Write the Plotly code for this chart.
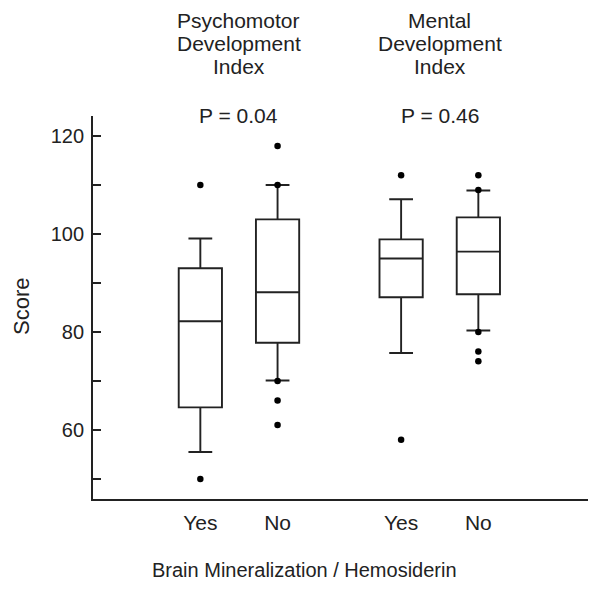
import plotly.graph_objects as go

# ---- data ----
groups = ["PDI Yes", "PDI No", "MDI Yes", "MDI No"]
tick_labels = ["Yes", "No", "Yes", "No"]
q1 = [64.6, 77.8, 87.1, 87.7]
median = [82.2, 88.1, 95.0, 96.4]
q3 = [93.0, 103.0, 98.9, 103.4]
lower_whisker = [55.5, 70.1, 75.7, 80.3]
upper_whisker = [99.1, 110.0, 107.1, 108.9]
outliers = [
    [110, 50],
    [118, 110, 70, 66, 61],
    [112, 58],
    [112, 109, 80, 76, 74],
]
panel_titles = [["Psychomotor", "Development", "Index"], ["Mental", "Development", "Index"]]
p_values = ["P = 0.04", "P = 0.46"]

# ---- layout constants ----
xpos = [1.0, 2.0, 3.6, 4.6]
FONT = "Liberation Sans, Arial, sans-serif"
INK = "#222222"
LW = 1.9
OFF = 8  # page body margin offset
W, H = 602, 591
# desired on-screen plot box
SX0, SX1, SY0, SY1 = 93, 588, 116, 499
L, T = SX0 - OFF, SY0 - OFF
R, B = W - (SX1 - OFF), H - (SY1 - OFF)
PW, PH = SX1 - SX0, SY1 - SY0
TITLE_LINE_Y = [20, 43.5, 67]


def px(sx):
    return (sx - SX0) / PW


def py(sy):
    return (SY1 - sy) / PH


fig = go.Figure()
for i, g in enumerate(groups):
    fig.add_trace(go.Box(
        x=[xpos[i]], q1=[q1[i]], median=[median[i]], q3=[q3[i]],
        lowerfence=[lower_whisker[i]], upperfence=[upper_whisker[i]],
        width=0.56, whiskerwidth=0.55,
        fillcolor="white", line=dict(color=INK, width=LW),
        boxpoints=False, showlegend=False, name=g, hoverinfo="skip",
    ))
    fig.add_trace(go.Scatter(
        x=[xpos[i]] * len(outliers[i]), y=outliers[i], mode="markers",
        marker=dict(color="black", size=6.5), showlegend=False, hoverinfo="skip",
    ))

annotations = []
for k, (lines, p) in enumerate(zip(panel_titles, p_values)):
    cx = (xpos[2 * k] + xpos[2 * k + 1]) / 2
    for line, ly in zip(lines, TITLE_LINE_Y):
        annotations.append(dict(x=cx, xref="x", y=py(ly), yref="paper", text=line,
                                showarrow=False, yanchor="middle", xanchor="center",
                                font=dict(size=21, family=FONT, color=INK)))
    annotations.append(dict(x=cx, xref="x", y=py(115), yref="paper", text=p,
                            showarrow=False, yanchor="middle", xanchor="center",
                            font=dict(size=21, family=FONT, color=INK)))
annotations.append(dict(x=px(304), xref="paper", y=py(570), yref="paper",
                        text="Brain Mineralization / Hemosiderin", showarrow=False,
                        xanchor="center", yanchor="middle",
                        font=dict(size=20, family=FONT, color=INK)))
annotations.append(dict(x=px(21), xref="paper", y=py(307), yref="paper",
                        text="Score", textangle=-90, showarrow=False,
                        xanchor="center", yanchor="middle",
                        font=dict(size=22, family=FONT, color=INK)))

fig.update_layout(
    width=W, height=H,
    margin=dict(l=L, r=R, t=T, b=B),
    paper_bgcolor="white", plot_bgcolor="white",
    font=dict(family=FONT, color=INK, size=20),
    annotations=annotations,
    xaxis=dict(range=[-0.39, 6.02], tickvals=xpos, ticktext=tick_labels,
               showgrid=False, zeroline=False, showline=True, linecolor=INK,
               linewidth=LW, ticks="", ticklabelstandoff=4, automargin=False,
               tickfont=dict(size=21, family=FONT, color=INK)),
    yaxis=dict(range=[45.9, 124.1], tickvals=[60, 80, 100, 120],
               showgrid=False, zeroline=False, showline=True, linecolor=INK,
               linewidth=LW, ticks="inside", ticklen=8, tickwidth=LW,
               tickcolor=INK, ticklabelstandoff=3, automargin=False,
               minor=dict(tickvals=[50, 70, 90, 110], ticks="inside", ticklen=8,
                          tickwidth=LW, tickcolor=INK, showgrid=False),
               tickfont=dict(size=20, family=FONT, color=INK)),
)

fig.write_html("out.html")
